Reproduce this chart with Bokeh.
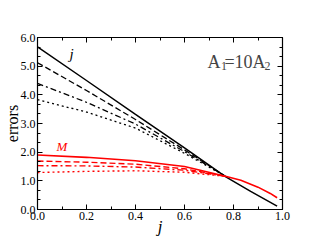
from bokeh.plotting import figure
from bokeh.models import Range1d, LinearAxis, Label, PrintfTickFormatter, FixedTicker
from bokeh.embed import file_html
from bokeh.resources import INLINE

# ---- data ----
j_solid_x = [0.0, 0.2, 0.4, 0.6, 0.767, 0.87, 0.978]
j_solid_y = [5.67, 4.50, 3.32, 2.15, 1.15, 0.63, 0.12]
j_dash_x = [0.0, 0.2, 0.4, 0.6, 0.767]
j_dash_y = [5.12, 4.15, 3.14, 2.08, 1.16]
j_dashdot_x = [0.0, 0.2, 0.4, 0.6, 0.767]
j_dashdot_y = [4.40, 3.74, 2.98, 2.02, 1.16]
j_dot_x = [0.0, 0.2, 0.4, 0.6, 0.767]
j_dot_y = [3.83, 3.40, 2.84, 1.96, 1.16]

m_solid_x = [0.0, 0.2, 0.4, 0.6, 0.767, 0.83, 0.9, 0.95, 0.978]
m_solid_y = [1.90, 1.82, 1.70, 1.50, 1.16, 1.02, 0.78, 0.56, 0.41]
m_dash_x = [0.0, 0.2, 0.4, 0.6, 0.767]
m_dash_y = [1.69, 1.65, 1.58, 1.42, 1.16]
m_dashdot_x = [0.0, 0.2, 0.4, 0.6, 0.767]
m_dashdot_y = [1.53, 1.52, 1.48, 1.37, 1.16]
m_dot_x = [0.0, 0.2, 0.4, 0.6, 0.767]
m_dot_y = [1.29, 1.33, 1.35, 1.30, 1.16]

x_ticks = [0.0, 0.2, 0.4, 0.6, 0.8, 1.0]
y_ticks = [0.0, 1.0, 2.0, 3.0, 4.0, 5.0, 6.0]

SERIF = "'Liberation Serif', 'Times New Roman', serif"
RED = "#ff0000"

p = figure(width=301, height=238, output_backend="svg", toolbar_location=None,
           x_range=Range1d(0, 1), y_range=Range1d(0, 6),
           min_border_left=37, min_border_right=19, min_border_top=37, min_border_bottom=21,
           x_axis_location=None, y_axis_location=None)
p.grid.visible = False
p.outline_line_color = "black"
p.outline_line_width = 1.2
p.background_fill_color = "white"
p.border_fill_color = "white"

def style_axis(ax, ticks, minor, show_labels):
    ax.ticker = FixedTicker(ticks=ticks, minor_ticks=minor)
    ax.formatter = PrintfTickFormatter(format="%.1f")
    ax.major_tick_in = 5
    ax.major_tick_out = 0
    ax.minor_tick_in = 3
    ax.minor_tick_out = 0
    ax.axis_line_color = "black"
    ax.major_tick_line_color = "black"
    ax.minor_tick_line_color = "black"
    ax.major_label_text_font = SERIF
    ax.major_label_text_font_size = "12px"
    ax.major_label_text_color = "black"
    ax.major_label_standoff = 2
    if not show_labels:
        ax.major_label_text_alpha = 0
        ax.major_label_text_font_size = "1px"

x_minor = [round(0.1 * i, 2) for i in range(11)]
y_minor = [round(i / 3.0, 4) for i in range(19)]

bx = LinearAxis(axis_label="j"); style_axis(bx, x_ticks, x_minor, True)
bx.axis_label_text_font = SERIF
bx.axis_label_text_font_size = "17px"
bx.axis_label_text_font_style = "italic"
bx.axis_label_text_color = "black"
bx.axis_label_standoff = -6
p.add_layout(bx, "below")
tx = LinearAxis(); style_axis(tx, x_ticks, x_minor, False); p.add_layout(tx, "above")
ly = LinearAxis(axis_label="errors"); style_axis(ly, y_ticks, y_minor, True)
ly.axis_label_text_font = SERIF
ly.axis_label_text_font_size = "16px"
ly.axis_label_text_font_style = "normal"
ly.axis_label_text_color = "black"
ly.axis_label_standoff = -3
p.add_layout(ly, "left")
ry = LinearAxis(); style_axis(ry, y_ticks, y_minor, False); p.add_layout(ry, "right")

# black curves (j)
p.line(j_solid_x, j_solid_y, line_color="black", line_width=1.5)
p.line(j_dash_x, j_dash_y, line_color="black", line_width=1.3, line_dash="6 3")
p.line(j_dashdot_x, j_dashdot_y, line_color="black", line_width=1.3, line_dash="6 3 2 3")
p.line(j_dot_x, j_dot_y, line_color="black", line_width=1.3, line_dash="2 3")

# red curves (M)
p.line(m_solid_x, m_solid_y, line_color=RED, line_width=1.6)
p.line(m_dash_x, m_dash_y, line_color=RED, line_width=1.4, line_dash="6 3")
p.line(m_dashdot_x, m_dashdot_y, line_color=RED, line_width=1.4, line_dash="6 3 2 3")
p.line(m_dot_x, m_dot_y, line_color=RED, line_width=1.4, line_dash="2 3")

# curve labels
p.add_layout(Label(x=0.139, y=5.43, text="j", text_font=SERIF, text_font_style="italic",
                   text_font_size="15px", text_align="center", text_baseline="middle",
                   text_color="black"))
p.add_layout(Label(x=0.10, y=2.2, text="M", text_font=SERIF, text_font_style="italic",
                   text_font_size="13px", text_align="center", text_baseline="middle",
                   text_color=RED))

# A1=10A2 annotation
base = 5.15
sub = 5.01
p.add_layout(Label(x=0.694, y=base, text="A", text_font=SERIF, text_font_size="18px",
                   text_baseline="alphabetic", text_align="left"))
p.add_layout(Label(x=0.749, y=sub, text="1", text_font=SERIF, text_font_size="12px",
                   text_baseline="alphabetic", text_align="left"))
p.add_layout(Label(x=0.763, y=base, text="=10A", text_font=SERIF, text_font_size="18px",
                   text_baseline="alphabetic", text_align="left"))
p.add_layout(Label(x=0.927, y=sub, text="2", text_font=SERIF, text_font_size="12px",
                   text_baseline="alphabetic", text_align="left"))

open("out.html", "w").write(file_html(p, INLINE))
